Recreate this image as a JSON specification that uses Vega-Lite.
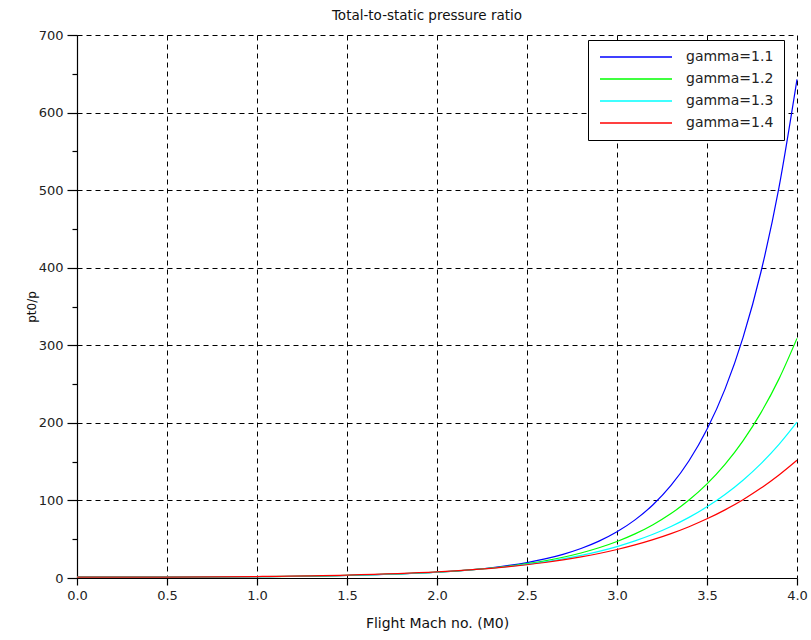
{
  "$schema": "https://vega.github.io/schema/vega-lite/v6.json",
  "autosize": "none",
  "width": 720,
  "height": 543,
  "padding": {"left": 77, "top": 35, "right": 14, "bottom": 62},
  "background": "white",
  "config": {
    "view": {"stroke": null},
    "font": "DejaVu Sans",
    "axis": {
      "labelFont": "DejaVu Sans",
      "labelFontSize": 13,
      "labelColor": "#222",
      "titleFont": "DejaVu Sans",
      "titleFontSize": 14,
      "titleFontWeight": "normal",
      "titleColor": "#111",
      "domainColor": "black",
      "domainWidth": 1.2,
      "tickColor": "black",
      "tickWidth": 1.2,
      "gridColor": "black",
      "gridDash": [5, 4],
      "gridOpacity": 1,
      "gridWidth": 1
    }
  },
  "title": {
    "text": "Total-to-static pressure ratio",
    "font": "DejaVu Sans",
    "fontSize": 13.5,
    "fontWeight": "normal",
    "color": "#111",
    "anchor": "middle",
    "offset": 7,
    "dx": -10
  },
  "data": {
    "values": [
      {"M": 0, "gamma": "gamma=1.1", "r": 1},
      {"M": 0.5, "gamma": "gamma=1.1", "r": 1.146},
      {"M": 1.0, "gamma": "gamma=1.1", "r": 1.710},
      {"M": 1.5, "gamma": "gamma=1.1", "r": 3.231},
      {"M": 2.0, "gamma": "gamma=1.1", "r": 7.430},
      {"M": 2.1, "gamma": "gamma=1.1", "r": 8.952},
      {"M": 2.2, "gamma": "gamma=1.1", "r": 10.848},
      {"M": 2.3, "gamma": "gamma=1.1", "r": 13.217},
      {"M": 2.4, "gamma": "gamma=1.1", "r": 16.185},
      {"M": 2.5, "gamma": "gamma=1.1", "r": 19.912},
      {"M": 2.6, "gamma": "gamma=1.1", "r": 24.605},
      {"M": 2.7, "gamma": "gamma=1.1", "r": 30.53},
      {"M": 2.8, "gamma": "gamma=1.1", "r": 38.02},
      {"M": 2.9, "gamma": "gamma=1.1", "r": 47.52},
      {"M": 3.0, "gamma": "gamma=1.1", "r": 59.56},
      {"M": 3.1, "gamma": "gamma=1.1", "r": 74.91},
      {"M": 3.2, "gamma": "gamma=1.1", "r": 94.41},
      {"M": 3.3, "gamma": "gamma=1.1", "r": 119.3},
      {"M": 3.4, "gamma": "gamma=1.1", "r": 151.1},
      {"M": 3.5, "gamma": "gamma=1.1", "r": 191.7},
      {"M": 3.6, "gamma": "gamma=1.1", "r": 243.5},
      {"M": 3.7, "gamma": "gamma=1.1", "r": 309.9},
      {"M": 3.8, "gamma": "gamma=1.1", "r": 394.8},
      {"M": 3.9, "gamma": "gamma=1.1", "r": 503.5},
      {"M": 4.0, "gamma": "gamma=1.1", "r": 642.7},
      {"M": 0, "gamma": "gamma=1.2", "r": 1},
      {"M": 0.5, "gamma": "gamma=1.2", "r": 1.160},
      {"M": 1.0, "gamma": "gamma=1.2", "r": 1.772},
      {"M": 1.5, "gamma": "gamma=1.2", "r": 3.379},
      {"M": 2.0, "gamma": "gamma=1.2", "r": 7.530},
      {"M": 2.1, "gamma": "gamma=1.2", "r": 8.954},
      {"M": 2.2, "gamma": "gamma=1.2", "r": 10.681},
      {"M": 2.3, "gamma": "gamma=1.2", "r": 12.777},
      {"M": 2.4, "gamma": "gamma=1.2", "r": 15.322},
      {"M": 2.5, "gamma": "gamma=1.2", "r": 18.415},
      {"M": 2.6, "gamma": "gamma=1.2", "r": 22.163},
      {"M": 2.7, "gamma": "gamma=1.2", "r": 26.71},
      {"M": 2.8, "gamma": "gamma=1.2", "r": 32.24},
      {"M": 2.9, "gamma": "gamma=1.2", "r": 38.93},
      {"M": 3.0, "gamma": "gamma=1.2", "r": 47.05},
      {"M": 3.1, "gamma": "gamma=1.2", "r": 56.85},
      {"M": 3.2, "gamma": "gamma=1.2", "r": 68.75},
      {"M": 3.3, "gamma": "gamma=1.2", "r": 83.11},
      {"M": 3.4, "gamma": "gamma=1.2", "r": 100.44},
      {"M": 3.5, "gamma": "gamma=1.2", "r": 121.34},
      {"M": 3.6, "gamma": "gamma=1.2", "r": 146.5},
      {"M": 3.7, "gamma": "gamma=1.2", "r": 176.8},
      {"M": 3.8, "gamma": "gamma=1.2", "r": 213.2},
      {"M": 3.9, "gamma": "gamma=1.2", "r": 256.7},
      {"M": 4.0, "gamma": "gamma=1.2", "r": 308.9},
      {"M": 0, "gamma": "gamma=1.3", "r": 1},
      {"M": 0.5, "gamma": "gamma=1.3", "r": 1.173},
      {"M": 1.0, "gamma": "gamma=1.3", "r": 1.833},
      {"M": 1.5, "gamma": "gamma=1.3", "r": 3.526},
      {"M": 2.0, "gamma": "gamma=1.3", "r": 7.665},
      {"M": 2.1, "gamma": "gamma=1.3", "r": 9.026},
      {"M": 2.2, "gamma": "gamma=1.3", "r": 10.646},
      {"M": 2.3, "gamma": "gamma=1.3", "r": 12.571},
      {"M": 2.4, "gamma": "gamma=1.3", "r": 14.858},
      {"M": 2.5, "gamma": "gamma=1.3", "r": 17.567},
      {"M": 2.6, "gamma": "gamma=1.3", "r": 20.777},
      {"M": 2.7, "gamma": "gamma=1.3", "r": 24.573},
      {"M": 2.8, "gamma": "gamma=1.3", "r": 29.055},
      {"M": 2.9, "gamma": "gamma=1.3", "r": 34.34},
      {"M": 3.0, "gamma": "gamma=1.3", "r": 40.54},
      {"M": 3.1, "gamma": "gamma=1.3", "r": 47.85},
      {"M": 3.2, "gamma": "gamma=1.3", "r": 56.38},
      {"M": 3.3, "gamma": "gamma=1.3", "r": 66.43},
      {"M": 3.4, "gamma": "gamma=1.3", "r": 78.13},
      {"M": 3.5, "gamma": "gamma=1.3", "r": 91.78},
      {"M": 3.6, "gamma": "gamma=1.3", "r": 107.66},
      {"M": 3.7, "gamma": "gamma=1.3", "r": 126.11},
      {"M": 3.8, "gamma": "gamma=1.3", "r": 147.5},
      {"M": 3.9, "gamma": "gamma=1.3", "r": 172.3},
      {"M": 4.0, "gamma": "gamma=1.3", "r": 200.9},
      {"M": 0, "gamma": "gamma=1.4", "r": 1},
      {"M": 0.5, "gamma": "gamma=1.4", "r": 1.186},
      {"M": 1.0, "gamma": "gamma=1.4", "r": 1.893},
      {"M": 1.5, "gamma": "gamma=1.4", "r": 3.671},
      {"M": 2.0, "gamma": "gamma=1.4", "r": 7.824},
      {"M": 2.1, "gamma": "gamma=1.4", "r": 9.145},
      {"M": 2.2, "gamma": "gamma=1.4", "r": 10.693},
      {"M": 2.3, "gamma": "gamma=1.4", "r": 12.505},
      {"M": 2.4, "gamma": "gamma=1.4", "r": 14.621},
      {"M": 2.5, "gamma": "gamma=1.4", "r": 17.087},
      {"M": 2.6, "gamma": "gamma=1.4", "r": 19.956},
      {"M": 2.7, "gamma": "gamma=1.4", "r": 23.283},
      {"M": 2.8, "gamma": "gamma=1.4", "r": 27.14},
      {"M": 2.9, "gamma": "gamma=1.4", "r": 31.60},
      {"M": 3.0, "gamma": "gamma=1.4", "r": 36.73},
      {"M": 3.1, "gamma": "gamma=1.4", "r": 42.64},
      {"M": 3.2, "gamma": "gamma=1.4", "r": 49.43},
      {"M": 3.3, "gamma": "gamma=1.4", "r": 57.20},
      {"M": 3.4, "gamma": "gamma=1.4", "r": 66.13},
      {"M": 3.5, "gamma": "gamma=1.4", "r": 76.28},
      {"M": 3.6, "gamma": "gamma=1.4", "r": 87.85},
      {"M": 3.7, "gamma": "gamma=1.4", "r": 100.97},
      {"M": 3.8, "gamma": "gamma=1.4", "r": 115.9},
      {"M": 3.9, "gamma": "gamma=1.4", "r": 132.8},
      {"M": 4.0, "gamma": "gamma=1.4", "r": 151.8}
    ]
  },
  "layer": [
    {
      "mark": {"type": "line", "strokeWidth": 1.2, "interpolate": "monotone"},
      "encoding": {
        "x": {
          "field": "M", "type": "quantitative",
          "scale": {"domain": [0, 4], "nice": false, "zero": false},
          "axis": {
            "title": "Flight Mach no. (M0)",
            "values": [0, 0.5, 1, 1.5, 2, 2.5, 3, 3.5, 4],
            "format": ".1f",
            "tickSize": 7,
            "labelPadding": 4,
            "titlePadding": 14,
            "labelFlush": false
          }
        },
        "y": {
          "field": "r", "type": "quantitative",
          "scale": {"domain": [0, 700], "nice": false},
          "axis": {
            "title": "pt0/p",
            "values": [0, 100, 200, 300, 400, 500, 600, 700],
            "tickSize": 10,
            "labelPadding": 4,
            "titlePadding": 0,
            "titleFontSize": 12,
            "labelFlush": false
          }
        },
        "color": {
          "field": "gamma", "type": "nominal",
          "scale": {"domain": ["gamma=1.1", "gamma=1.2", "gamma=1.3", "gamma=1.4"], "range": ["#0000ff", "#00ff00", "#00ffff", "#ff0000"]},
          "legend": {
            "title": null,
            "orient": "none",
            "legendX": 511,
            "legendY": 5,
            "symbolType": "M-1,0H13.4",
            "symbolSize": 100,
            "symbolStrokeWidth": 1.3,
            "labelFont": "DejaVu Sans",
            "labelFontSize": 14,
            "labelColor": "#222",
            "labelOffset": 74,
            "rowPadding": 8,
            "padding": 10,
            "strokeColor": "black",
            "fillColor": "white",
            "cornerRadius": 0
          }
        }
      }
    },
    {
      "mark": {"type": "line", "opacity": 0},
      "encoding": {
        "y": {
          "field": "r", "type": "quantitative",
          "axis": {
            "orient": "left",
            "title": null,
            "labels": false,
            "domain": false,
            "grid": false,
            "values": [50, 150, 250, 350, 450, 550, 650],
            "tickSize": 5
          }
        },
        "x": {"field": "M", "type": "quantitative"}
      }
    }
  ],
  "resolve": {"axis": {"y": "independent"}}
}
